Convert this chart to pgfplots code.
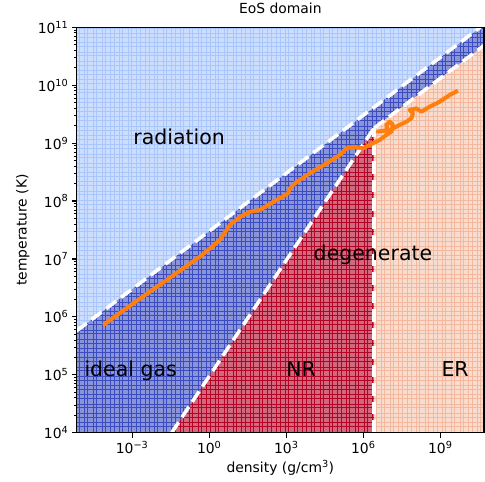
\documentclass[border=0pt]{standalone}
\usepackage{fontspec}
\setmainfont{DejaVu Sans}
\usepackage{pgfplots}
\pgfplotsset{compat=1.18}

% region colours: cell edges in the full colour, cell faces at 60% over white
\definecolor{radline}{RGB}{170,199,253}
\definecolor{radfill}{RGB}{204,221,254}
\definecolor{gasline}{RGB}{59,76,192}
\definecolor{gasfill}{RGB}{137,148,217}
\definecolor{nrline}{RGB}{180,4,38}
\definecolor{nrfill}{RGB}{210,104,125}
\definecolor{erline}{RGB}{244,184,158}
\definecolor{erfill}{RGB}{248,220,206}
\definecolor{track}{RGB}{255,127,14}

% edges of the table cells, in log10 density / log10 temperature
\newcommand{\cellmesh}[1]{%
  \foreach \i in {0,...,47} {%
    \draw[#1, line width=0.6bp] (axis cs:{-5.2+0.34*\i},3.9) -- (axis cs:{-5.2+0.34*\i},11.1);
    \draw[#1, line width=0.6bp] (axis cs:{-5.07+0.34*\i},3.9) -- (axis cs:{-5.07+0.34*\i},11.1);}%
  \foreach \j in {0,...,45} {%
    \draw[#1, line width=0.6bp] (axis cs:-5.3,{3.95+0.16*\j}) -- (axis cs:10.8,{3.95+0.16*\j});
    \draw[#1, line width=0.6bp] (axis cs:-5.3,{4.015+0.16*\j}) -- (axis cs:10.8,{4.015+0.16*\j});}%
}

\begin{document}
\begin{tikzpicture}
\begin{axis}[
  scale only axis, width=407.3bp, height=405.4bp,
  at={(0,0)}, anchor=south west,
  xmin=-5.16, xmax=10.7, ymin=4, ymax=11,
  axis on top,
  axis line style={line width=1.1bp, black},
  tick align=outside, tick pos=left,
  major tick length=4.86bp, minor tick length=2.78bp,
  every major tick/.style={black, line width=1.1bp},
  every minor tick/.style={black, line width=0.83bp},
  xtick={-3,0,3,6,9},
  xticklabels={10\textsuperscript{−3},10\textsuperscript{0},10\textsuperscript{3},10\textsuperscript{6},10\textsuperscript{9}},
  ytick={4,5,6,7,8,9,10,11},
  yticklabels={10\textsuperscript{4},10\textsuperscript{5},10\textsuperscript{6},10\textsuperscript{7},10\textsuperscript{8},10\textsuperscript{9},10\textsuperscript{10},10\textsuperscript{11}},
  minor ytick={4.30103,4.47712,4.60206,4.69897,4.77815,4.84510,4.90309,4.95424,
               5.30103,5.47712,5.60206,5.69897,5.77815,5.84510,5.90309,5.95424,
               6.30103,6.47712,6.60206,6.69897,6.77815,6.84510,6.90309,6.95424,
               7.30103,7.47712,7.60206,7.69897,7.77815,7.84510,7.90309,7.95424,
               8.30103,8.47712,8.60206,8.69897,8.77815,8.84510,8.90309,8.95424,
               9.30103,9.47712,9.60206,9.69897,9.77815,9.84510,9.90309,9.95424,
               10.30103,10.47712,10.60206,10.69897,10.77815,10.84510,10.90309,10.95424},
  ticklabel style={font=\fontsize{13.9bp}{16bp}\selectfont},
  title={EoS domain},
  title style={at={(axis description cs:0.5,1.0197)}, anchor=base, font=\fontsize{13.9bp}{16bp}\selectfont},
  xlabel={density (g/cm\textsuperscript{3})},
  xlabel style={at={(axis description cs:0.5,-0.0994)}, anchor=base, font=\fontsize{13.9bp}{16bp}\selectfont},
  ylabel={temperature (K)},
  ylabel style={at={(axis description cs:-0.1228,0.5)}, anchor=base, font=\fontsize{13.9bp}{16bp}\selectfont},
]
% ideal gas (background), radiation, non-relativistic and relativistic degenerate regions
\addplot[draw=none, fill=gasfill] coordinates {(-6,3.9) (11.5,3.9) (11.5,11.5) (-6,11.5)} -- cycle;
\addplot[draw=none, fill=radfill] coordinates {(-6,5.48) (12,11.48) (12,12) (-6,12)} -- cycle;
\addplot[draw=none, fill=nrfill] coordinates {(-1.61,3.9) (6.42,9.26) (6.42,3.9)} -- cycle;
\addplot[draw=none, fill=erfill] coordinates {(6.42,3.9) (6.42,9.26) (11,10.787) (11,3.9)} -- cycle;

% cell edges, each region in its own colour
\pgfplotsextra{%
  \begin{scope}
    \clip (axis cs:-6,3.9) -- (axis cs:-1.61,3.9) -- (axis cs:6.42,9.26) -- (axis cs:11.5,10.953) -- (axis cs:11.5,11.313) -- (axis cs:-6,5.48) -- cycle;
    \cellmesh{gasline}
  \end{scope}
  \begin{scope}
    \clip (axis cs:-6,5.48) -- (axis cs:12,11.48) -- (axis cs:12,12) -- (axis cs:-6,12) -- cycle;
    \cellmesh{radline}
  \end{scope}
  \begin{scope}
    \clip (axis cs:-1.61,3.9) -- (axis cs:6.42,9.26) -- (axis cs:6.42,3.9) -- cycle;
    \cellmesh{nrline}
  \end{scope}
  \begin{scope}
    \clip (axis cs:6.42,3.9) -- (axis cs:6.42,9.26) -- (axis cs:11,10.787) -- (axis cs:11,3.9) -- cycle;
    \cellmesh{erline}
  \end{scope}
}

% regime boundaries
\pgfplotsset{boundary/.style={white, line width=3.5bp, dash pattern=on 12.5bp off 6bp}}
\addplot[boundary] coordinates {(-5.16,5.76) (10.56,11)};
\addplot[boundary] coordinates {(-1.46,4) (6.42,9.26)};
\addplot[boundary] coordinates {(6.42,4) (6.42,9.26)};
\addplot[boundary] coordinates {(6.42,9.26) (10.7,10.687)};

% central density / temperature track
\addplot[track, line width=4bp, line join=round] coordinates {
(-4.128,5.858) (-2.961,6.233) (-1.661,6.636) (-0.366,7.038) (0.412,7.326)
(0.802,7.586) (1.191,7.724) (1.580,7.815) (1.969,7.845) (2.619,8.017)
(3.070,8.133) (3.136,8.219) (3.331,8.306) (3.914,8.478) (4.564,8.651)
(5.082,8.794) (5.342,8.910) (5.599,8.938) (5.988,8.910) (6.377,8.997)
(6.638,9.054) (6.899,9.140) (7.093,9.197) (7.156,9.313) (7.027,9.370)
(6.899,9.313) (6.949,9.226) (6.553,9.197) (7.027,9.226) (7.416,9.313)
(7.677,9.370) (7.872,9.428) (7.934,9.515) (7.805,9.572) (8.066,9.601)
(8.261,9.542) (8.584,9.629) (8.973,9.715) (9.362,9.831) (9.685,9.905)};

\node[anchor=base, font=\fontsize{20.5bp}{24bp}\selectfont] at (axis cs:-1.171,8.984) {radiation};
\node[anchor=base, font=\fontsize{20.5bp}{24bp}\selectfont] at (axis cs:-3.058,4.978) {ideal gas};
\node[anchor=base, font=\fontsize{20.5bp}{24bp}\selectfont] at (axis cs:6.377,6.981) {degenerate};
\node[anchor=base, font=\fontsize{20.5bp}{24bp}\selectfont] at (axis cs:3.576,4.978) {NR};
\node[anchor=base, font=\fontsize{20.5bp}{24bp}\selectfont] at (axis cs:9.576,4.978) {ER};
\end{axis}
\pgfresetboundingbox
\path[use as bounding box] (-76.7bp,-49.3bp) rectangle (408.3bp,432.7bp);
\end{tikzpicture}
\end{document}
